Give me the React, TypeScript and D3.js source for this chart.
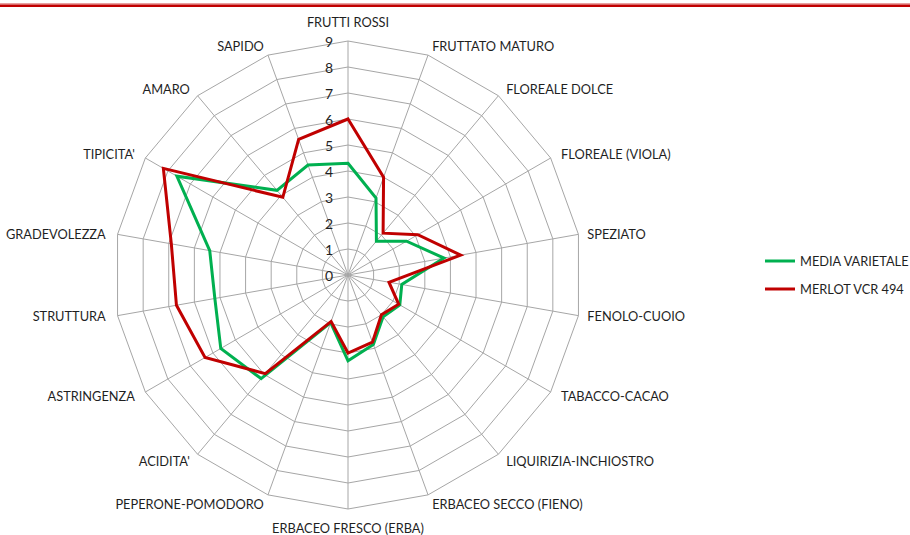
import React from "react";
import * as d3 from "d3";

const categories = [
  "FRUTTI ROSSI",
  "FRUTTATO MATURO",
  "FLOREALE DOLCE",
  "FLOREALE (VIOLA)",
  "SPEZIATO",
  "FENOLO-CUOIO",
  "TABACCO-CACAO",
  "LIQUIRIZIA-INCHIOSTRO",
  "ERBACEO SECCO (FIENO)",
  "ERBACEO FRESCO (ERBA)",
  "PEPERONE-POMODORO",
  "ACIDITA'",
  "ASTRINGENZA",
  "STRUTTURA",
  "GRADEVOLEZZA",
  "TIPICITA'",
  "AMARO",
  "SAPIDO",
];

const mediaVarietale = [4.3, 3.15, 1.7, 2.6, 3.75, 2.1, 2.3, 2.1, 2.85, 3.3, 1.95, 5.2, 5.65, 5.2, 5.4, 7.6, 4.25, 4.5];
const merlotVcr494 = [6, 4, 2.1, 3.1, 4.4, 1.6, 2.25, 2.0, 2.75, 3.0, 1.9, 4.95, 6.35, 6.7, 6.9, 8.2, 3.9, 5.55];

const seriesNames = ["MEDIA VARIETALE", "MERLOT VCR 494"];
const seriesColors = ["#00b050", "#c00000"];
const tickValues = [0, 1, 2, 3, 4, 5, 6, 7, 8, 9];

const W = 910;
const H = 535;
const cx = 348;
const cy = 275;
const R = 234;
const FONT = "Lato, 'Open Sans', sans-serif";
const TEXT = "#1f1f1f";
const LABEL_SIZE = 12.8;

export default function App() {
  const n = categories.length;
  const rScale = d3.scaleLinear().domain([0, 9]).range([0, R]);
  const angle = (i: number) => (i * 2 * Math.PI) / n;
  const pt = (i: number, r: number): [number, number] => [
    cx + r * Math.sin(angle(i)),
    cy - r * Math.cos(angle(i)),
  ];

  const ringLine = d3
    .lineRadial<number>()
    .angle((_, i) => angle(i))
    .radius((d) => rScale(d))
    .curve(d3.curveLinearClosed);

  const series = [mediaVarietale, merlotVcr494];

  return (
    <svg
      width={W}
      height={H}
      style={{ position: "absolute", left: 0, top: 0, background: "#fff" }}
      fontFamily={FONT}
    >
      <rect x={0} y={3} width={W} height={1.5} fill="#e8a0a0" />
      <rect x={0} y={4.5} width={W} height={2.5} fill="#c00000" />

      <g transform={`translate(${cx},${cy})`}>
        {tickValues.slice(1).map((t) => (
          <path
            key={"ring" + t}
            d={ringLine(categories.map(() => t)) || ""}
            fill="none"
            stroke="#a6a6a6"
            strokeWidth={1}
          />
        ))}
      </g>
      {categories.map((c, i) => {
        const [x, y] = pt(i, rScale(9));
        return (
          <line key={"sp" + i} x1={cx} y1={cy} x2={x} y2={y} stroke="#a6a6a6" strokeWidth={1} />
        );
      })}

      {tickValues.map((t) => (
        <text
          key={"tk" + t}
          x={cx - 15}
          y={cy - rScale(t)}
          textAnchor="end"
          dominantBaseline="central"
          fontSize={14}
          fill={TEXT}
        >
          {t}
        </text>
      ))}

      <g transform={`translate(${cx},${cy})`}>
        {series.map((s, k) => (
          <path
            key={"s" + k}
            d={ringLine(s) || ""}
            fill="none"
            stroke={seriesColors[k]}
            strokeWidth={3}
            strokeLinejoin="miter"
          />
        ))}
      </g>

      {categories.map((c, i) => {
        const a = angle(i);
        const s = Math.sin(a);
        const co = Math.cos(a);
        const [x, y] = pt(i, R + 12);
        let anchor = "middle";
        if (s > 0.1) anchor = "start";
        else if (s < -0.1) anchor = "end";
        let dy = 0;
        let dx = 0;
        let base = "central";
        if (co > 0.95) {
          base = "auto";
          dy = -2;
        } else if (co < -0.95) {
          base = "hanging";
          dy = 2;
        } else {
          dy = co > 0 ? 2 : -2;
          if (Math.abs(co) < 0.2 && s > 0) dx = -3;
        }
        return (
          <text
            key={"lb" + i}
            x={x + dx}
            y={y + dy}
            textAnchor={anchor}
            dominantBaseline={base}
            fontSize={LABEL_SIZE}
            fill={TEXT}
          >
            {c}
          </text>
        );
      })}

      {seriesNames.map((name, k) => (
        <g key={"lg" + k} transform={`translate(765,${261 + k * 28})`}>
          <line x1={0} x2={30} y1={0} y2={0} stroke={seriesColors[k]} strokeWidth={3} />
          <text x={35} y={0} dominantBaseline="central" fontSize={LABEL_SIZE} fill={TEXT}>
            {name}
          </text>
        </g>
      ))}
    </svg>
  );
}
